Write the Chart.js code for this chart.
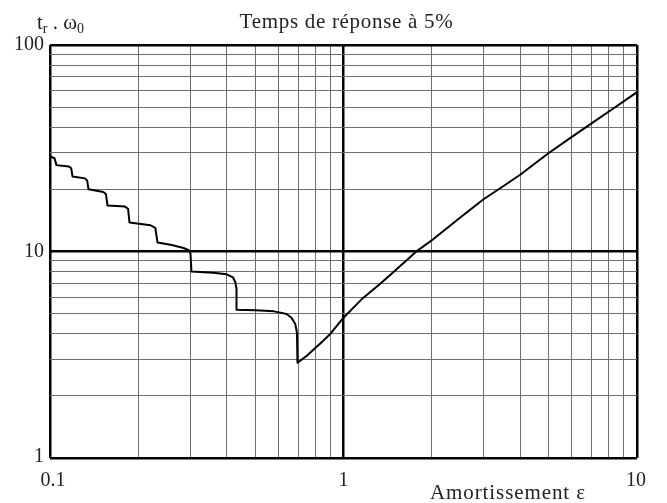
<!DOCTYPE html>
<html>
<head>
<meta charset="utf-8">
<script src="https://cdn.jsdelivr.net/npm/chart.js@4.4.0/dist/chart.umd.min.js"></script>
<style>
  html, body { margin: 0; padding: 0; background: #fff; }
</style>
</head>
<body>
<canvas id="chart" width="667" height="503"></canvas>
<script>
// damping ratio (x) and settling time t_r.w0 (y)
const dampingValues = [0.1, 0.1036, 0.1052, 0.116, 0.1181, 0.1193, 0.1315, 0.1338, 0.1353,
  0.152, 0.155, 0.157, 0.18, 0.1845, 0.1866, 0.22, 0.2285, 0.2324,
  0.26, 0.285, 0.297, 0.301, 0.3034, 0.36, 0.40, 0.42, 0.428, 0.432, 0.432,
  0.5, 0.58, 0.64, 0.665, 0.685, 0.694, 0.697,
  0.75, 0.803, 0.85, 0.903, 1, 1.15, 1.337, 1.5, 1.787, 2.01, 2.5, 3.0, 3.5, 4.01, 4.99, 6, 6.94, 8, 10];
const responseTimes = [28.9, 28.3, 26.2, 25.8, 25.3, 23.1, 22.6, 22.1, 20.0,
  19.4, 19.0, 16.7, 16.5, 16.1, 13.8, 13.4, 13.0, 11.06,
  10.75, 10.4, 10.15, 9.8, 8.0, 7.9, 7.75, 7.5, 7.1, 6.6, 5.23,
  5.2, 5.13, 4.98, 4.78, 4.45, 4.05, 2.89,
  3.13, 3.42, 3.68, 4.0, 4.78, 5.85, 7.0, 8.1, 10.1, 11.4, 14.6, 17.9, 20.7, 23.6, 29.9, 35.9, 41.4, 47.5, 59.1];

const xGridValues = [0.1, 0.2, 0.3, 0.4, 0.5, 0.6, 0.7, 0.8, 0.9, 1, 2, 3, 4, 5, 6, 7, 8, 9, 10];
const yGridValues = [1, 2, 3, 4, 5, 6, 7, 8, 9, 10, 20, 30, 40, 50, 60, 70, 80, 90, 100];
const xHeavy = [0.1, 1, 10];
const yHeavy = [1, 10, 100];
const xTickLabels = ['0.1', '1', '10'];
const yTickLabels = ['1', '10', '100'];

const FONT = '"Liberation Serif", "DejaVu Serif", serif';

function isHeavy(list, v) {
  return list.some(h => Math.abs(h - v) / h < 1e-6);
}

function gridStyle(heavyList) {
  return {
    drawTicks: false,
    color: (c) => isHeavy(heavyList, c.tick.value) ? '#000' : '#6e6e6e',
    lineWidth: (c) => isHeavy(heavyList, c.tick.value) ? 2.5 : 1
  };
}

const textPlugin = {
  id: 'texts',
  afterDraw(chart) {
    const ctx = chart.ctx;
    const area = chart.chartArea;
    const xs = chart.scales.x, ys = chart.scales.y;
    ctx.save();
    ctx.fillStyle = '#222';
    ctx.font = '20px ' + FONT;

    // y decade labels
    ctx.textAlign = 'right';
    ctx.textBaseline = 'middle';
    yHeavy.forEach((v, i) => {
      let y = ys.getPixelForValue(v);
      if (i === 0) y -= 1;
      ctx.fillText(yTickLabels[i], area.left - 6, y);
    });

    // x decade labels
    ctx.textAlign = 'center';
    xHeavy.forEach((v, i) => {
      let x = xs.getPixelForValue(v);
      if (i === 0) x += 3;
      if (i === 2) x -= 1;
      ctx.fillText(xTickLabels[i], x, area.bottom + 23);
    });

    // title
    ctx.font = '21px ' + FONT;
    ctx.letterSpacing = '0.7px';
    ctx.textBaseline = 'alphabetic';
    ctx.fillText('Temps de réponse à 5%', (area.left + area.right) / 2 + 3, 28);

    // x axis name
    ctx.textAlign = 'left';
    ctx.letterSpacing = '0.9px';
    ctx.fillText('Amortissement ε', 430, 499);

    // y axis name: t_r . w_0
    ctx.letterSpacing = '0px';
    let x = 37;
    const base = 29;
    ctx.font = '21px ' + FONT;
    ctx.fillText('t', x, base); x += ctx.measureText('t').width;
    ctx.font = '14px ' + FONT;
    ctx.fillText('r', x, base + 4); x += ctx.measureText('r').width;
    ctx.font = '21px ' + FONT;
    ctx.fillText(' . ω', x, base); x += ctx.measureText(' . ω').width;
    ctx.font = '14px ' + FONT;
    ctx.fillText('0', x, base + 4);
    ctx.restore();
  }
};

new Chart(document.getElementById('chart'), {
  type: 'scatter',
  data: {
    datasets: [{
      data: dampingValues.map((x, i) => ({ x: x, y: responseTimes[i] })),
      showLine: true,
      borderColor: '#000',
      borderWidth: 2,
      borderJoinStyle: 'round',
      pointRadius: 0,
      tension: 0,
      fill: false
    }]
  },
  options: {
    responsive: false,
    animation: false,
    devicePixelRatio: 1,
    layout: { padding: { left: 50, right: 30, top: 45, bottom: 45 } },
    plugins: { legend: { display: false }, tooltip: { enabled: false } },
    scales: {
      x: {
        type: 'logarithmic', min: 0.1, max: 10,
        ticks: { display: false },
        grid: gridStyle(xHeavy),
        border: { display: false },
        afterBuildTicks: (scale) => { scale.ticks = xGridValues.map(v => ({ value: v })); }
      },
      y: {
        type: 'logarithmic', min: 1, max: 100,
        ticks: { display: false },
        grid: gridStyle(yHeavy),
        border: { display: false },
        afterBuildTicks: (scale) => { scale.ticks = yGridValues.map(v => ({ value: v })); }
      }
    }
  },
  plugins: [textPlugin]
});
</script>
</body>
</html>
